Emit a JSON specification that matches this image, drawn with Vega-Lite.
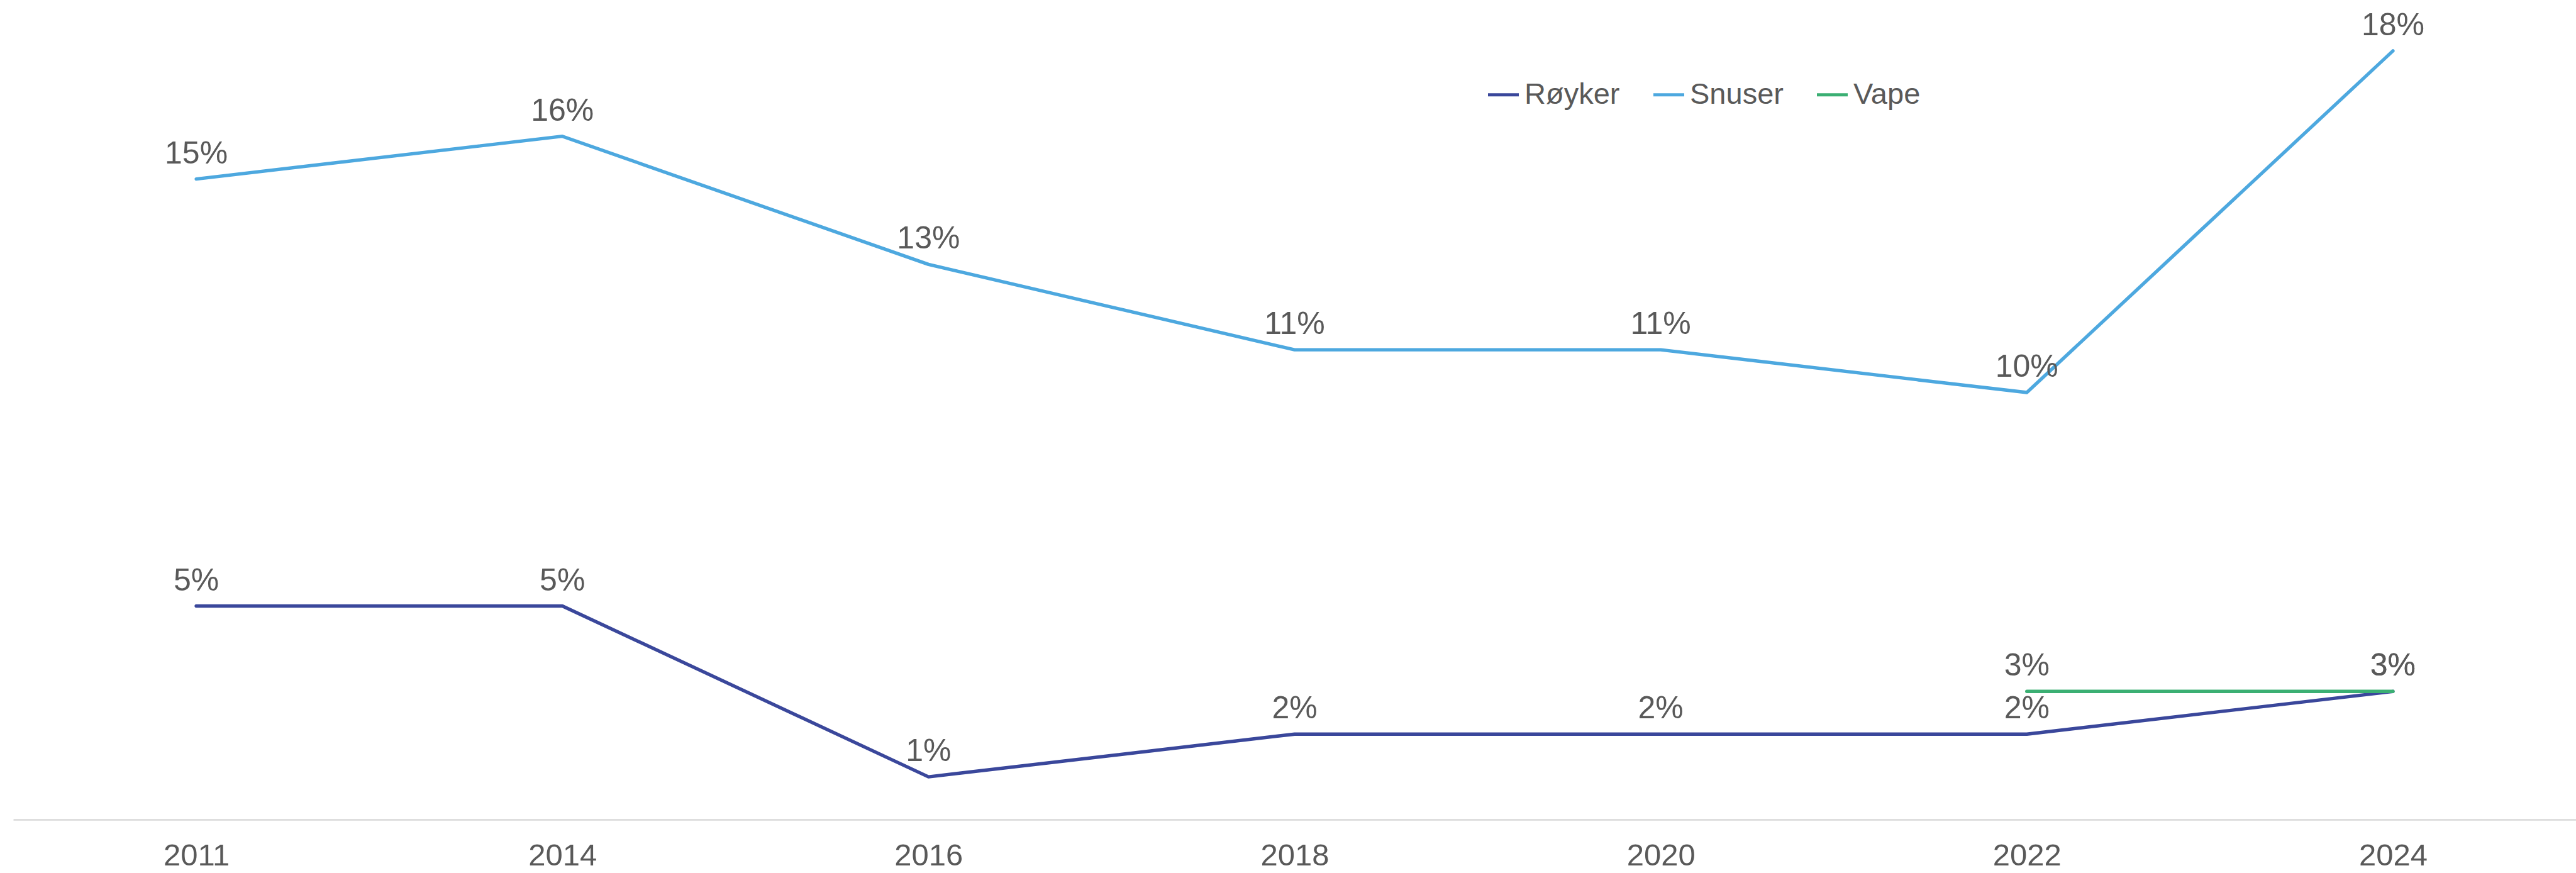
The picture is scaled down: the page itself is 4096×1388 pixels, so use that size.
{
  "$schema": "https://vega.github.io/schema/vega-lite/v6.json",
  "width": 4075,
  "height": 1290,
  "autosize": {"type": "none"},
  "padding": {"left": 21, "top": 13, "right": 0, "bottom": 85},
  "background": "white",
  "config": {
    "view": {"stroke": null},
    "font": "Liberation Sans",
    "text": {"font": "Liberation Sans"}
  },
  "data": {
    "values": [
      {"year": "2011", "serie": "Røyker", "value": 0.05},
      {"year": "2014", "serie": "Røyker", "value": 0.05},
      {"year": "2016", "serie": "Røyker", "value": 0.01},
      {"year": "2018", "serie": "Røyker", "value": 0.02},
      {"year": "2020", "serie": "Røyker", "value": 0.02},
      {"year": "2022", "serie": "Røyker", "value": 0.02},
      {"year": "2024", "serie": "Røyker", "value": 0.03},
      {"year": "2011", "serie": "Snuser", "value": 0.15},
      {"year": "2014", "serie": "Snuser", "value": 0.16},
      {"year": "2016", "serie": "Snuser", "value": 0.13},
      {"year": "2018", "serie": "Snuser", "value": 0.11},
      {"year": "2020", "serie": "Snuser", "value": 0.11},
      {"year": "2022", "serie": "Snuser", "value": 0.10},
      {"year": "2024", "serie": "Snuser", "value": 0.18},
      {"year": "2022", "serie": "Vape", "value": 0.03},
      {"year": "2024", "serie": "Vape", "value": 0.03}
    ]
  },
  "encoding": {
    "x": {
      "field": "year",
      "type": "ordinal",
      "scale": {"type": "point", "padding": 0.5},
      "axis": {
        "title": null,
        "labelAngle": 0,
        "labelFontSize": 49,
        "labelColor": "#595959",
        "labelFont": "Liberation Sans",
        "labelPadding": 33,
        "ticks": false,
        "grid": false,
        "domainColor": "#d9d9d9",
        "domainWidth": 2.5
      }
    },
    "y": {
      "field": "value",
      "type": "quantitative",
      "scale": {"domain": [0, 0.19], "nice": false, "zero": true},
      "axis": null
    }
  },
  "layer": [
    {
      "mark": {"type": "line", "strokeWidth": 5.4, "strokeCap": "round", "strokeJoin": "round"},
      "encoding": {
        "color": {
          "field": "serie",
          "type": "nominal",
          "scale": {"domain": ["Røyker", "Snuser", "Vape"], "range": ["#3A479B", "#4DA8DF", "#3BAF73"]},
          "legend": {
            "title": null,
            "orient": "none",
            "direction": "horizontal",
            "legendX": 2342,
            "legendY": 110,
            "symbolType": "stroke",
            "symbolSize": 2401,
            "symbolStrokeWidth": 5.2,
            "labelFontSize": 47,
            "labelColor": "#595959",
            "labelFont": "Liberation Sans",
            "labelOffset": 6,
            "columnPadding": 42,
            "labelLimit": 0
          }
        },
        "order": {"field": "year"}
      }
    },
    {
      "mark": {"type": "text", "dy": -25, "baseline": "alphabetic", "align": "center", "fontSize": 50, "color": "#595959", "font": "Liberation Sans"},
      "encoding": {
        "text": {"field": "value", "type": "quantitative", "format": ".0%"},
        "detail": {"field": "serie"}
      }
    }
  ]
}
